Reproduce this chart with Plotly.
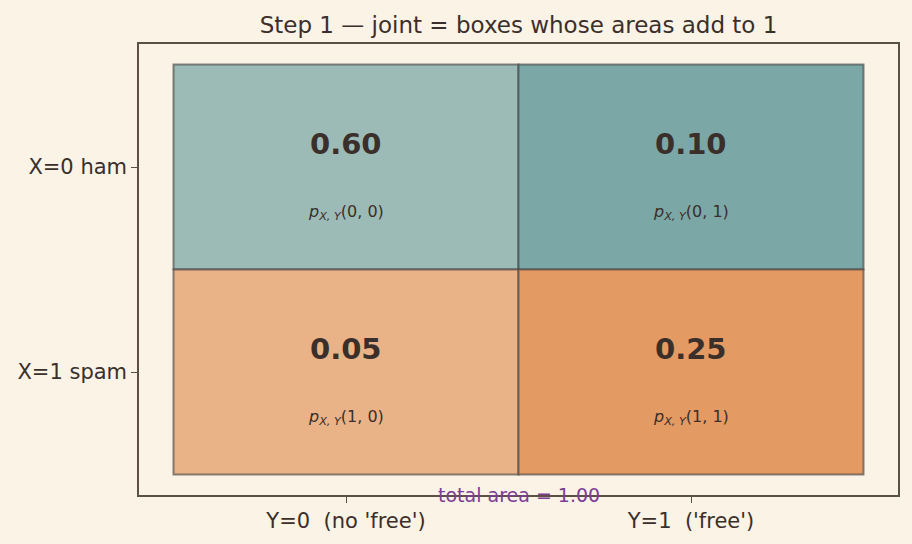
import plotly.graph_objects as go

# Data
rows = ["X=0 ham", "X=1 spam"]          # y categories (row index 0,1)
cols = ["Y=0  (no 'free')", "Y=1  ('free')"]  # x categories (col index 0,1)
joint = [[0.60, 0.10],
         [0.05, 0.25]]
cell_labels = [["(0, 0)", "(0, 1)"],
               ["(1, 0)", "(1, 1)"]]
cell_colors = [["#9cbbb7", "#7ba7a7"],
               ["#eab287", "#e39a63"]]

BG = "#faf3e6"
INK = "#3a2f2a"
EDGE = "rgba(60,60,60,0.6)"
FONT = "DejaVu Sans"

fig = go.Figure()

shapes = []
annotations = []
for i in range(len(rows)):
    for j in range(len(cols)):
        shapes.append(dict(type="rect", xref="x", yref="y",
                           x0=j - 0.5, x1=j + 0.5, y0=i - 0.5, y1=i + 0.5,
                           fillcolor=cell_colors[i][j],
                           line=dict(color=EDGE, width=2), layer="below"))
        annotations.append(dict(x=j, y=i - 0.11, xref="x", yref="y",
                                text=f"<b>{joint[i][j]:.2f}</b>", showarrow=False,
                                font=dict(size=29, color=INK, family=FONT)))
        annotations.append(dict(x=j, y=i + 0.22, xref="x", yref="y",
                                text=f"<i>p</i><sub><i>X, Y</i></sub>{cell_labels[i][j]}",
                                showarrow=False,
                                font=dict(size=16, color=INK, family=FONT)))

total = sum(sum(r) for r in joint)
annotations.append(dict(x=0.5, y=1.6, xref="x", yref="y",
                        text=f"total area = {total:.2f}", showarrow=False,
                        font=dict(size=19, color="#7d3c98", family=FONT)))

# invisible trace to establish axes
fig.add_trace(go.Scatter(x=[0, 1], y=[0, 1], mode="markers",
                         marker=dict(opacity=0), hoverinfo="skip", showlegend=False))

fig.update_layout(
    width=912, height=544,
    paper_bgcolor=BG, plot_bgcolor=BG,
    margin=dict(l=139, r=14, t=44, b=49),
    title=dict(text="Step 1 — joint = boxes whose areas add to 1",
               x=0.5, xanchor="center", xref="paper", y=1 - 25 / 544, yanchor="middle",
               font=dict(size=23, color=INK, family=FONT)),
    shapes=shapes, annotations=annotations,
    font=dict(family=FONT, color=INK),
)
fig.update_xaxes(range=[-0.6, 1.6], tickvals=list(range(len(cols))), ticktext=cols,
                 showgrid=False, zeroline=False, showline=True, mirror=True,
                 linecolor="#5c5044", linewidth=1.5, ticks="outside", ticklen=6,
                 tickcolor="#5c5044", tickfont=dict(size=21, color=INK))
fig.update_yaxes(range=[1.6, -0.6], tickvals=list(range(len(rows))), ticktext=rows,
                 showgrid=False, zeroline=False, showline=True, mirror=True,
                 linecolor="#5c5044", linewidth=1.5, ticks="outside", ticklen=6,
                 tickcolor="#5c5044", tickfont=dict(size=21, color=INK))

fig.write_html("out.html")
